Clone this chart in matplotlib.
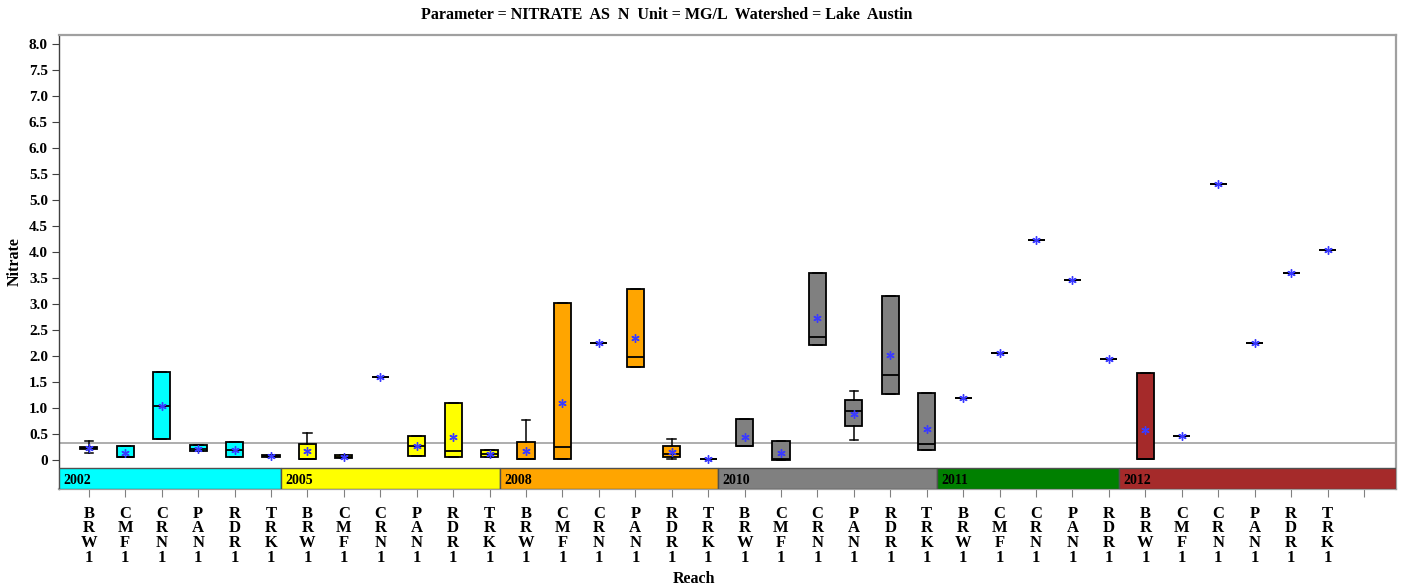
import matplotlib
matplotlib.use("Agg")
import matplotlib.pyplot as plt
from matplotlib.patches import Rectangle

plt.rcParams["font.family"] = ["Liberation Serif", "DejaVu Serif"]
plt.rcParams["font.weight"] = "bold"

# years (groups) and the reaches sampled in each
years = ["2002", "2005", "2008", "2010", "2011", "2012"]
year_colors = ["#00FFFF", "#FFFF00", "#FFA500", "#808080", "#008000", "#A52A2A"]
reaches = [
    ["BRW1", "CMF1", "CRN1", "PAN1", "RDR1", "TRK1"],
    ["BRW1", "CMF1", "CRN1", "PAN1", "RDR1", "TRK1"],
    ["BRW1", "CMF1", "CRN1", "PAN1", "RDR1", "TRK1"],
    ["BRW1", "CMF1", "CRN1", "PAN1", "RDR1", "TRK1"],
    ["BRW1", "CMF1", "CRN1", "PAN1", "RDR1"],
    ["BRW1", "CMF1", "CRN1", "PAN1", "RDR1", "TRK1"],
]

# box statistics, one value per reach, in the same order as above
q1 = [0.21, 0.05, 0.40, 0.17, 0.05, 0.05,
      0.01, 0.03, 1.60, 0.07, 0.05, 0.06,
      0.01, 0.01, 2.24, 1.79, 0.05, 0.02,
      0.26, 0.00, 2.21, 0.65, 1.27, 0.19,
      1.20, 2.06, 4.22, 3.46, 1.94,
      0.01, 0.47, 5.31, 2.25, 3.60, 4.03]
med = [0.23, 0.05, 1.04, 0.22, 0.20, 0.08,
       0.02, 0.06, 1.60, 0.27, 0.17, 0.12,
       0.02, 0.24, 2.24, 1.98, 0.12, 0.02,
       0.27, 0.01, 2.36, 0.94, 1.63, 0.30,
       1.20, 2.06, 4.22, 3.46, 1.94,
       0.02, 0.47, 5.31, 2.25, 3.60, 4.03]
q3 = [0.25, 0.27, 1.69, 0.29, 0.34, 0.10,
      0.31, 0.10, 1.60, 0.46, 1.09, 0.19,
      0.34, 3.01, 2.24, 3.29, 0.27, 0.02,
      0.78, 0.37, 3.60, 1.15, 3.15, 1.29,
      1.20, 2.06, 4.22, 3.46, 1.94,
      1.67, 0.47, 5.31, 2.25, 3.60, 4.03]
whis_lo = [0.13, 0.05, 0.40, 0.17, 0.05, 0.05,
           0.01, 0.03, 1.60, 0.07, 0.05, 0.06,
           0.01, 0.01, 2.24, 1.79, 0.02, 0.02,
           0.26, 0.00, 2.21, 0.38, 1.27, 0.19,
           1.20, 2.06, 4.22, 3.46, 1.94,
           0.01, 0.47, 5.31, 2.25, 3.60, 4.03]
whis_hi = [0.37, 0.27, 1.69, 0.29, 0.34, 0.10,
           0.51, 0.10, 1.60, 0.46, 1.09, 0.19,
           0.76, 3.01, 2.24, 3.29, 0.41, 0.02,
           0.78, 0.37, 3.60, 1.33, 3.15, 1.29,
           1.20, 2.06, 4.22, 3.46, 1.94,
           1.67, 0.47, 5.31, 2.25, 3.60, 4.03]
means = [0.23, 0.14, 1.04, 0.22, 0.20, 0.08,
         0.17, 0.06, 1.60, 0.27, 0.44, 0.12,
         0.17, 1.09, 2.24, 2.35, 0.15, 0.02,
         0.45, 0.13, 2.72, 0.89, 2.01, 0.60,
         1.20, 2.06, 4.22, 3.46, 1.94,
         0.57, 0.47, 5.31, 2.25, 3.60, 4.03]

ref_level = 0.32
yticks = [0, 0.5, 1.0, 1.5, 2.0, 2.5, 3.0, 3.5, 4.0, 4.5, 5.0, 5.5, 6.0, 6.5, 7.0, 7.5, 8.0]
ytick_labels = ["0"] + [f"{v:.1f}" for v in yticks[1:]]

labels = [r for grp in reaches for r in grp]
colors = [c for grp, c in zip(reaches, year_colors) for _ in grp]
n = len(labels)
pos = list(range(n))

stats = []
for i in range(n):
    stats.append(dict(q1=q1[i], med=med[i], q3=q3[i], whislo=whis_lo[i],
                      whishi=whis_hi[i], mean=means[i], fliers=[]))

fig = plt.figure(figsize=(14.03, 5.88), dpi=100)
ax = fig.add_axes([59 / 1403, 1 - 489 / 588, (1396 - 59) / 1403, (489 - 35) / 588])

bp = ax.bxp(stats, positions=pos, widths=0.47, showmeans=True, patch_artist=True,
            capwidths=0.24,
            boxprops=dict(edgecolor="black", linewidth=1.3),
            medianprops=dict(color="black", linewidth=1.3),
            whiskerprops=dict(color="black", linewidth=1.1),
            capprops=dict(color="black", linewidth=1.1),
            meanprops=dict(marker=(6, 2, 0), markeredgecolor="#3a3aff",
                           markerfacecolor="#3a3aff", markersize=6, markeredgewidth=1.0))
for patch, c in zip(bp["boxes"], colors):
    patch.set_facecolor(c)

ax.axhline(ref_level, color="#a0a0a0", linewidth=1.2, zorder=0)

ax.set_xlim(-0.82, 35.88)
ax.set_ylim(-0.558, 8.17)

# year band under the boxes
band_lo, band_hi = -0.558, -0.154
start = ax.get_xlim()[0]
idx = 0
for k, (yr, grp, c) in enumerate(zip(years, reaches, year_colors)):
    idx += len(grp)
    end = idx - 1 + 0.28 if k < len(years) - 1 else ax.get_xlim()[1]
    ax.add_patch(Rectangle((start, band_lo), end - start, band_hi - band_lo,
                           facecolor=c, edgecolor="#505050", linewidth=1.0, zorder=3))
    ax.text(start + 0.12, (band_lo + band_hi) / 2 - 0.03, yr, fontsize=10,
            fontweight="bold", va="center", ha="left", zorder=4)
    start = end

ax.set_xticks(pos + [n])
ax.set_xticklabels(["\n".join(s) for s in labels] + [""], fontsize=12,
                   fontweight="bold", linespacing=0.9)
ax.set_yticks(yticks)
ax.set_yticklabels(ytick_labels, fontsize=11, fontweight="bold")
ax.tick_params(axis="x", length=6, color="#808080", pad=6)
ax.tick_params(axis="y", length=5, color="#404040", pad=3)

for name, sp in ax.spines.items():
    sp.set_color("#a0a0a0")
    sp.set_linewidth(1.6)
ax.spines["left"].set_color("#404040")
ax.spines["left"].set_linewidth(1.0)

fig.text(667 / 1403, 1 - 15 / 588,
         "Parameter = NITRATE  AS  N  Unit = MG/L  Watershed = Lake  Austin",
         ha="center", va="center", fontsize=11.5, fontweight="bold")
fig.text(15 / 1403, 1 - 262 / 588, "Nitrate", rotation=90, ha="center", va="center",
         fontsize=11.5, fontweight="bold")
fig.text(694 / 1403, 1 - 579 / 588, "Reach", ha="center", va="center",
         fontsize=11.5, fontweight="bold")

fig.savefig("out.png", dpi=100)
